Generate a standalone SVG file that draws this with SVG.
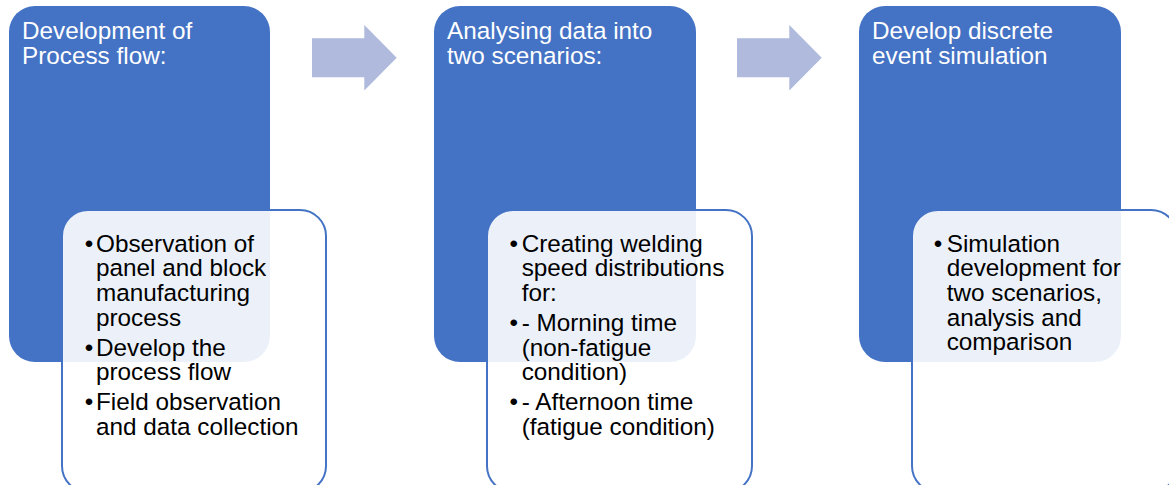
<svg xmlns="http://www.w3.org/2000/svg" width="1169" height="485" viewBox="0 0 1169 485">
  <style>
    .blue { fill: #4472C4; }
    .sub { fill: #FFFFFF; fill-opacity: 0.9; stroke: #4472C4; stroke-width: 2; }
    .arrow { fill: #AFBADC; }
    .title { font-family: "Liberation Sans", Arial, sans-serif; font-size: 24.3px; fill: #FFFFFF; }
    .body { font-family: "Liberation Sans", Arial, sans-serif; font-size: 24.3px; fill: #000000; }
  </style>
  <rect width="1169" height="485" fill="#FFFFFF"/>

  <g id="step1">
    <rect class="blue" x="9" y="6" width="261" height="356" rx="26" ry="26"/>
    <text class="title"><tspan x="22" y="39">Development of</tspan><tspan x="22" y="63.5">Process flow:</tspan></text>
  </g>
  <g id="step2">
    <rect class="blue" x="434" y="6" width="262" height="356" rx="26" ry="26"/>
    <text class="title"><tspan x="447" y="39">Analysing data into</tspan><tspan x="447" y="63.5">two scenarios:</tspan></text>
  </g>
  <g id="step3">
    <rect class="blue" x="859" y="6" width="262" height="356" rx="26" ry="26"/>
    <text class="title"><tspan x="872" y="39">Develop discrete</tspan><tspan x="872" y="63.5">event simulation</tspan></text>
  </g>

  <g id="connectors">
    <polygon class="arrow" points="312,38.3 364.3,38.3 364.3,25 396.7,57.7 364.3,90.4 364.3,77.3 312,77.3"/>
    <polygon class="arrow" points="737,38.3 789.3,38.3 789.3,25 821.7,57.7 789.3,90.4 789.3,77.3 737,77.3"/>
  </g>

  <g id="detail1">
    <rect class="sub" x="62" y="210" width="264" height="282" rx="26" ry="26"/>
    <text class="body">
      <tspan x="84.8" y="251.5">•</tspan>
      <tspan x="96" y="251.5">Observation of</tspan>
      <tspan x="96" y="276.2">panel and block</tspan>
      <tspan x="96" y="300.9">manufacturing</tspan>
      <tspan x="96" y="325.6">process</tspan>
      <tspan x="84.8" y="355.6">•</tspan>
      <tspan x="96" y="355.6">Develop the</tspan>
      <tspan x="96" y="380.3">process flow</tspan>
      <tspan x="84.8" y="410.3">•</tspan>
      <tspan x="96" y="410.3">Field observation</tspan>
      <tspan x="96" y="435">and data collection</tspan>
    </text>
  </g>
  <g id="detail2">
    <rect class="sub" x="487" y="210" width="265" height="282" rx="26" ry="26"/>
    <text class="body">
      <tspan x="509.5" y="251.5">•</tspan>
      <tspan x="521.7" y="251.5">Creating welding</tspan>
      <tspan x="521.7" y="276.2">speed distributions</tspan>
      <tspan x="521.7" y="300.9">for:</tspan>
      <tspan x="509.5" y="330.9">•</tspan>
      <tspan x="521.7" y="330.9">- Morning time</tspan>
      <tspan x="521.7" y="355.6">(non-fatigue</tspan>
      <tspan x="521.7" y="380.3">condition)</tspan>
      <tspan x="509.5" y="410.3">•</tspan>
      <tspan x="521.7" y="410.3">- Afternoon time</tspan>
      <tspan x="521.7" y="435">(fatigue condition)</tspan>
    </text>
  </g>
  <g id="detail3">
    <rect class="sub" x="912" y="210" width="265" height="282" rx="26" ry="26"/>
    <text class="body">
      <tspan x="933.8" y="251.5">•</tspan>
      <tspan x="946.7" y="251.5">Simulation</tspan>
      <tspan x="946.7" y="276.2">development for</tspan>
      <tspan x="946.7" y="300.9">two scenarios,</tspan>
      <tspan x="946.7" y="325.6">analysis and</tspan>
      <tspan x="946.7" y="350.3">comparison</tspan>
    </text>
  </g>
</svg>
